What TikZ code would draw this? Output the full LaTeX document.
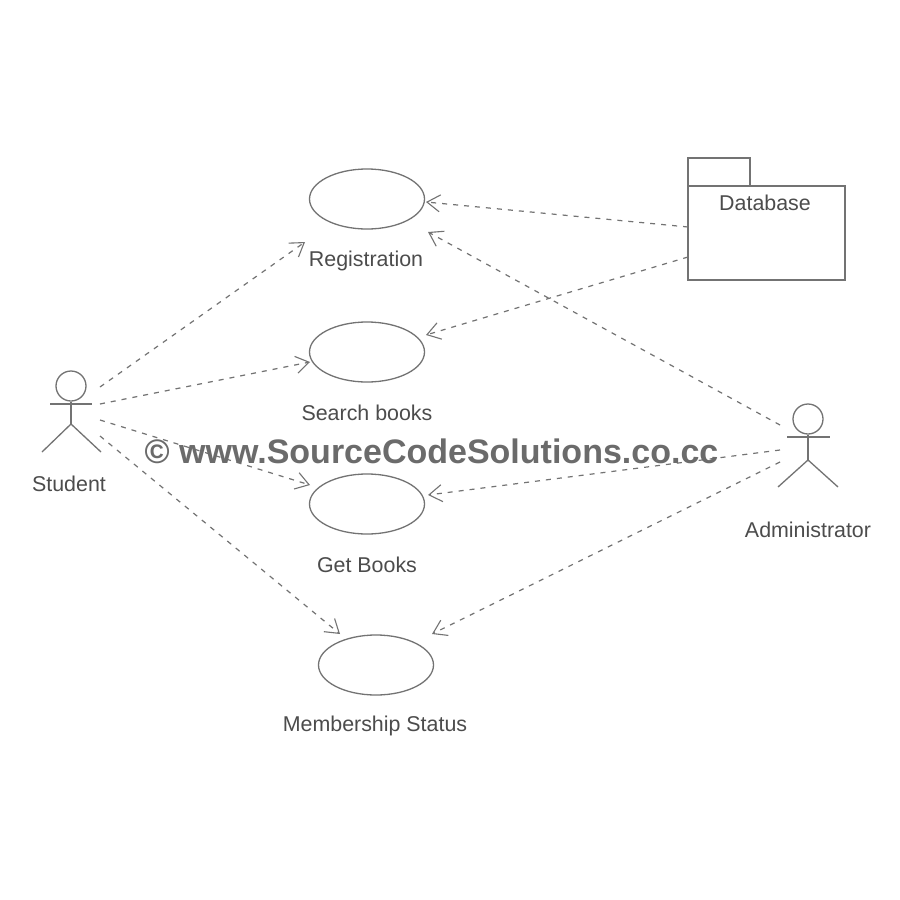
\documentclass[tikz,border=0pt]{standalone}
\usepackage{fontspec}
\setmainfont{Liberation Sans}
\usetikzlibrary{arrows.meta,shapes.geometric}
\definecolor{ink}{gray}{0.45}
\definecolor{txt}{gray}{0.30}
\tikzset{
  usecase/.style={draw=ink,line width=1.3pt,ellipse,minimum width=115pt,minimum height=60pt,inner sep=0pt},
  lbl/.style={text=txt,font=\fontsize{21.4}{25}\selectfont,inner sep=0pt},
  dep/.style={draw=ink,line width=1.2pt,dash pattern=on 5pt off 6pt,-{Straight Barb[length=13pt,width=17pt,line width=1.1pt]}},
  figline/.style={draw=ink,line width=1.3pt},
  wmark/.style={text=black!58,font=\bfseries\fontsize{34}{40}\selectfont,inner sep=0pt}
}
\begin{document}
\begin{tikzpicture}[x=1pt,y=-1pt]
\useasboundingbox (0,0) rectangle (900,900);
\fill[white] (0,0) rectangle (900,900);
% use cases
\node[usecase] (reg) at (367,199) {};
\node[usecase] (search) at (367,352) {};
\node[usecase] (get) at (367,504) {};
\node[usecase] (mem) at (376,665) {};
\node[lbl] (regl) at (366,261) {Registration};
\node[lbl] (searchl) at (367,413) {Search books};
\node[lbl] (getl) at (367,565) {Get Books};
\node[lbl] (meml) at (375,726) {Membership Status};
% package
\node[figline,draw,minimum width=157pt,minimum height=94pt,inner sep=0pt] (db) at (766.5,233) {};
\node[figline,draw,minimum width=62pt,minimum height=28pt,inner sep=0pt] (dbtab) at (719,172) {};
\node[lbl] (dbl) at (765,203) {Database};
% student
\node[figline,draw,circle,minimum size=30pt,inner sep=0pt] (shead) at (71,386) {};
\coordinate (sarml) at (50,404); \coordinate (sarmr) at (92,404);
\coordinate (scr) at (71,424);
\coordinate (slegl) at (42,452); \coordinate (slegr) at (101,452);
\draw[figline] (sarml) -- (sarmr);
\draw[figline] (shead.south) -- (scr);
\draw[figline] (slegl) -- (scr) -- (slegr);
\node[lbl] (sl) at (69,484) {Student};
% administrator
\node[figline,draw,circle,minimum size=30pt,inner sep=0pt] (ahead) at (808,419) {};
\coordinate (aarml) at (787,437); \coordinate (aarmr) at (830,437);
\coordinate (acr) at (808,460);
\coordinate (alegl) at (778,487); \coordinate (alegr) at (838,487);
\draw[figline] (aarml) -- (aarmr);
\draw[figline] (ahead.south) -- (acr);
\draw[figline] (alegl) -- (acr) -- (alegr);
\node[lbl] (al) at (808,530) {Administrator};
% connector ends
\coordinate (s1) at (100,387); \coordinate (s2) at (100,404);
\coordinate (s3) at (100,420); \coordinate (s4) at (100,436);
\coordinate (a1) at (780,425); \coordinate (a2) at (780,450); \coordinate (a3) at (780,462);
\coordinate (d1) at (688,227); \coordinate (d2) at (688,257);
\coordinate (t1) at (305,242); \coordinate (t2) at (310,362);
\coordinate (t3) at (310,485); \coordinate (t4) at (340,634);
\coordinate (t5) at (426,202); \coordinate (t6) at (426,335);
\coordinate (t7) at (428,232); \coordinate (t8) at (428,495); \coordinate (t9) at (432,634);
\draw[dep] (s1) -- (t1);
\draw[dep] (s2) -- (t2);
\draw[dep] (s3) -- (t3);
\draw[dep] (s4) -- (t4);
\draw[dep] (d1) -- (t5);
\draw[dep] (d2) -- (t6);
\draw[dep] (a1) -- (t7);
\draw[dep] (a2) -- (t8);
\draw[dep] (a3) -- (t9);
% watermark
\node[wmark] (wm) at (431.5,451) {© www.SourceCodeSolutions.co.cc};
\end{tikzpicture}
\end{document}
